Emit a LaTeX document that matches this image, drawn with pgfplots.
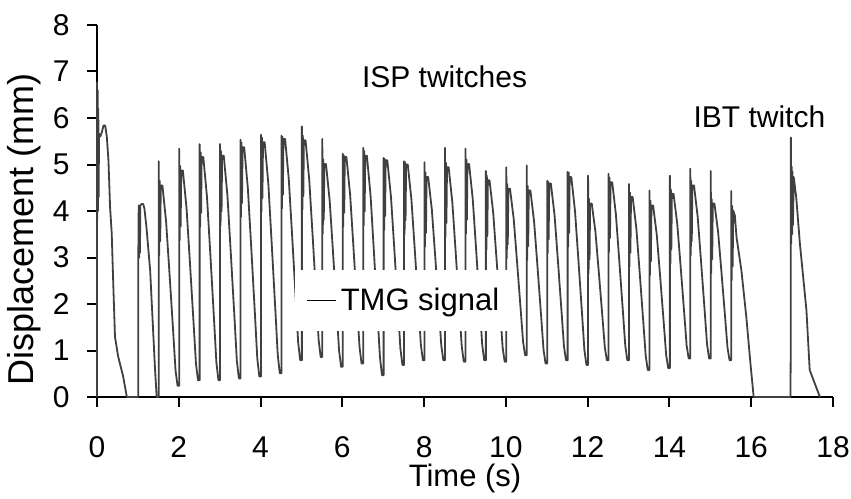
\documentclass[border=0pt]{standalone}
\usepackage{fontspec}
\setmainfont{Liberation Sans}
\setsansfont{Liberation Sans}
\usepackage{pgfplots}
\pgfplotsset{compat=1.18}
\begin{document}
\begin{tikzpicture}[font=\fontsize{15}{18}\selectfont]
\begin{axis}[
  scale only axis, width=368pt, height=186pt,
  xmin=0, xmax=18, ymin=0, ymax=8,
  axis x line*=bottom, axis y line*=left,
  xtick={0,2,...,18}, ytick={0,1,...,8},
  tick align=outside, major tick length=5pt,
  tick style={line width=1pt, black},
  axis line style={line width=1.2pt, black},
  /pgf/number format/assume math mode=true,
  every tick label/.append style={font=\fontsize{15}{18}\selectfont, inner sep=0pt},
  xticklabel shift=14.5pt, yticklabel shift=8.5pt,
  xlabel={Time (s)}, ylabel={Displacement (mm)},
  xlabel style={at={(axis description cs:0.5,-0.2419)}, anchor=base, inner sep=0pt, font=\fontsize{15.5}{18}\selectfont},
  ylabel style={at={(axis description cs:-0.0856,0.45)}, anchor=base, inner sep=0pt, font=\fontsize{18}{21}\selectfont},
  clip=false,
  legend style={at={(axis cs:7.53,2.08)}, anchor=center, fill=white, draw=none,
    inner xsep=6pt, inner ysep=7pt, font=\fontsize{15.5}{18}\selectfont},
  legend image code/.code={\draw[black, line width=0.6pt] (0pt,0pt) -- (14.5pt,0pt);},
]
\addplot[black!75, line width=0.9pt, line join=round] coordinates {
(0,0)(0,6.77)(0.008,3.8)(0.016,6.6)(0.024,4.0)(0.032,6.2)(0.04,4.3)(0.05,5.66)(0.08,5.6)(0.12,5.7)(0.16,5.84)(0.2,5.84)(0.24,5.6)(0.28,5.09)(0.32,4.08)(0.36,3.52)(0.40,2.37)(0.44,1.29)(0.52,0.86)(0.64,0.44)(0.73,0)
(1.01,0)(1.01,2.96)(1.02,4.12)(1.03,3.0)(1.04,4.05)(1.05,3.1)(1.06,4.12)(1.09,4.15)(1.13,4.15)(1.16,4.05)(1.21,3.65)(1.30,2.72)(1.36,1.65)(1.42,0.58)(1.46,0)
(1.51,0)(1.51,5.07)(1.522,3.05)(1.534,4.65)(1.546,3.35)(1.56,4.55)(1.60,4.55)(1.69,3.77)(1.77,2.70)(1.86,1.45)(1.92,0.58)(1.97,0.24)
(2.01,0.24)(2.01,5.34)(2.022,3.37)(2.034,4.97)(2.046,3.67)(2.06,4.87)(2.10,4.87)(2.19,4.06)(2.27,2.93)(2.36,1.62)(2.42,0.72)(2.47,0.36)
(2.51,0.36)(2.51,5.44)(2.522,3.66)(2.534,5.26)(2.546,3.96)(2.56,5.16)(2.60,5.16)(2.69,4.30)(2.77,3.10)(2.86,1.70)(2.92,0.74)(2.97,0.36)
(3.01,0.36)(3.01,5.44)(3.022,3.69)(3.034,5.29)(3.046,3.99)(3.06,5.19)(3.10,5.19)(3.19,4.33)(3.27,3.13)(3.36,1.74)(3.42,0.78)(3.47,0.40)
(3.51,0.40)(3.51,5.53)(3.522,3.87)(3.534,5.47)(3.546,4.17)(3.56,5.37)(3.60,5.37)(3.69,4.48)(3.77,3.25)(3.86,1.82)(3.92,0.83)(3.97,0.44)
(4.01,0.44)(4.01,5.64)(4.022,3.98)(4.034,5.58)(4.046,4.28)(4.06,5.48)(4.10,5.48)(4.19,4.59)(4.27,3.34)(4.36,1.90)(4.42,0.91)(4.47,0.51)
(4.51,0.51)(4.51,5.62)(4.522,4.05)(4.534,5.60)(4.546,4.35)(4.56,5.55)(4.60,5.55)(4.69,4.69)(4.77,3.50)(4.86,2.12)(4.92,1.17)(4.97,0.79)
(5.01,0.79)(5.01,5.82)(5.022,4.02)(5.034,5.62)(5.046,4.32)(5.06,5.52)(5.10,5.52)(5.19,4.68)(5.27,3.52)(5.36,2.17)(5.42,1.23)(5.47,0.86)
(5.51,0.86)(5.51,5.55)(5.522,3.51)(5.534,5.11)(5.546,3.81)(5.56,5.01)(5.60,5.01)(5.69,4.23)(5.77,3.14)(5.86,1.87)(5.92,1.00)(5.97,0.65)
(6.01,0.65)(6.01,5.23)(6.022,3.66)(6.034,5.20)(6.046,3.96)(6.06,5.16)(6.10,5.16)(6.19,4.36)(6.27,3.25)(6.36,1.96)(6.42,1.08)(6.47,0.72)
(6.51,0.72)(6.51,5.36)(6.522,3.69)(6.534,5.29)(6.546,3.99)(6.56,5.19)(6.60,5.19)(6.69,4.34)(6.77,3.16)(6.86,1.79)(6.92,0.85)(6.97,0.47)
(7.01,0.47)(7.01,5.14)(7.022,3.59)(7.034,5.12)(7.046,3.89)(7.06,5.09)(7.10,5.09)(7.19,4.30)(7.27,3.20)(7.36,1.92)(7.42,1.04)(7.47,0.69)
(7.51,0.69)(7.51,5.07)(7.522,3.50)(7.534,5.05)(7.546,3.80)(7.56,5.00)(7.60,5.00)(7.69,4.24)(7.77,3.19)(7.86,1.97)(7.92,1.13)(7.97,0.79)
(8.01,0.79)(8.01,5.05)(8.022,3.23)(8.034,4.83)(8.046,3.53)(8.06,4.73)(8.10,4.73)(8.19,4.02)(8.27,3.04)(8.36,1.89)(8.42,1.11)(8.47,0.79)
(8.51,0.79)(8.51,5.36)(8.522,3.44)(8.534,5.04)(8.546,3.74)(8.56,4.94)(8.60,4.94)(8.69,4.19)(8.77,3.14)(8.86,1.93)(8.92,1.09)(8.97,0.76)
(9.01,0.76)(9.01,5.34)(9.022,3.51)(9.034,5.11)(9.046,3.81)(9.06,5.01)(9.10,5.01)(9.19,4.25)(9.27,3.20)(9.36,1.97)(9.42,1.13)(9.47,0.79)
(9.51,0.79)(9.51,4.86)(9.522,3.16)(9.534,4.76)(9.546,3.46)(9.56,4.66)(9.60,4.66)(9.69,3.96)(9.77,2.98)(9.86,1.85)(9.92,1.07)(9.97,0.76)
(10.01,0.76)(10.01,4.94)(10.022,2.98)(10.034,4.58)(10.046,3.28)(10.06,4.48)(10.10,4.48)(10.19,3.84)(10.27,2.94)(10.36,1.90)(10.42,1.19)(10.47,0.90)
(10.51,0.90)(10.51,4.98)(10.522,2.94)(10.534,4.54)(10.546,3.24)(10.56,4.44)(10.60,4.44)(10.69,3.77)(10.77,2.84)(10.86,1.76)(10.92,1.02)(10.97,0.72)
(11.01,0.72)(11.01,4.65)(11.022,3.09)(11.034,4.63)(11.046,3.39)(11.06,4.59)(11.10,4.59)(11.19,3.91)(11.27,2.96)(11.36,1.85)(11.42,1.09)(11.47,0.79)
(11.51,0.79)(11.51,4.84)(11.522,3.23)(11.534,4.83)(11.546,3.53)(11.56,4.73)(11.60,4.73)(11.69,4.00)(11.77,2.99)(11.86,1.82)(11.92,1.01)(11.97,0.69)
(12.01,0.69)(12.01,4.76)(12.022,2.66)(12.034,4.26)(12.046,2.96)(12.06,4.16)(12.10,4.16)(12.19,3.55)(12.27,2.71)(12.36,1.73)(12.42,1.06)(12.47,0.79)
(12.51,0.79)(12.51,4.80)(12.522,3.12)(12.534,4.72)(12.546,3.42)(12.56,4.62)(12.60,4.62)(12.69,3.93)(12.77,2.97)(12.86,1.86)(12.92,1.10)(12.97,0.79)
(13.01,0.79)(13.01,4.58)(13.022,2.80)(13.034,4.40)(13.046,3.10)(13.06,4.30)(13.10,4.30)(13.19,3.63)(13.27,2.70)(13.36,1.62)(13.42,0.88)(13.47,0.58)
(13.51,0.58)(13.51,4.44)(13.522,2.62)(13.534,4.22)(13.546,2.92)(13.56,4.12)(13.60,4.12)(13.69,3.49)(13.77,2.62)(13.86,1.60)(13.92,0.90)(13.97,0.62)
(14.01,0.62)(14.01,4.76)(14.022,2.87)(14.034,4.47)(14.046,3.17)(14.06,4.37)(14.10,4.37)(14.19,3.73)(14.27,2.85)(14.36,1.82)(14.42,1.11)(14.47,0.83)
(14.51,0.83)(14.51,4.91)(14.522,3.05)(14.534,4.65)(14.546,3.35)(14.56,4.55)(14.60,4.55)(14.69,3.88)(14.77,2.95)(14.86,1.87)(14.92,1.13)(14.97,0.83)
(15.01,0.83)(15.01,4.86)(15.022,2.66)(15.034,4.26)(15.046,2.96)(15.06,4.16)(15.10,4.16)(15.19,3.55)(15.27,2.71)(15.36,1.73)(15.42,1.06)(15.47,0.79)
(15.51,0.79)(15.51,4.43)(15.522,2.51)(15.534,4.11)(15.546,2.81)(15.56,4.01)(15.60,3.90)(15.64,3.44)(15.76,2.72)(15.88,1.72)(15.98,0.73)(16.06,0)
(16.96,0)(16.965,0.9)(16.97,5.58)(16.98,3.3)(16.99,4.95)(17.0,3.5)(17.01,4.85)(17.02,3.7)(17.04,4.73)(17.1,4.3)(17.19,3.3)(17.35,1.87)(17.43,0.58)(17.55,0.3)(17.68,0)
};
\addlegendentry{TMG signal}
\node[anchor=base] at (axis cs:8.5,6.65) {ISP twitches};
\node[anchor=base] at (axis cs:16.2,5.79) {IBT twitch};
\end{axis}
\pgfresetboundingbox
\useasboundingbox (-48.5pt,-50.5pt) rectangle (377pt,198.5pt);
\end{tikzpicture}
\end{document}
